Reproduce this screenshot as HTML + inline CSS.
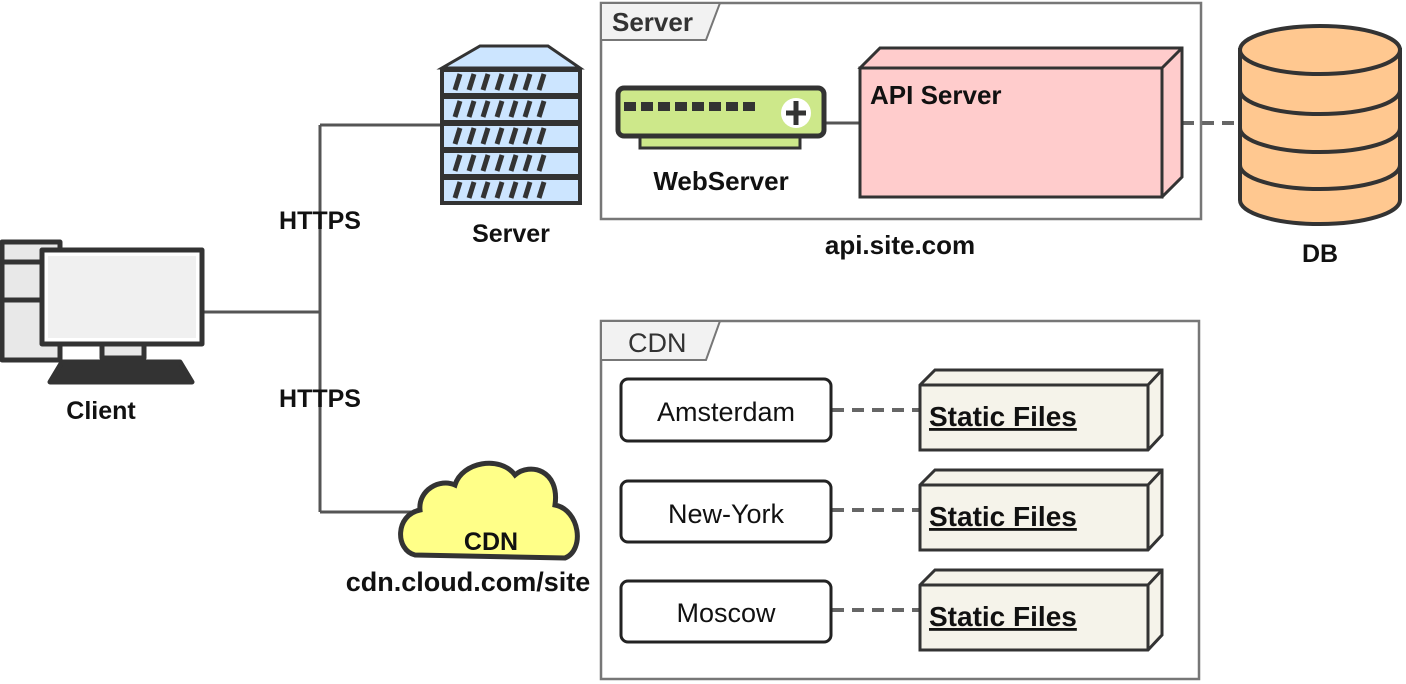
<!DOCTYPE html>
<html><head><meta charset="utf-8"><style>
html,body{margin:0;padding:0;background:#fff;width:1406px;height:684px;overflow:hidden}
svg{display:block}
text{font-family:"Liberation Sans",sans-serif;fill:#111}
.b{font-weight:bold;font-size:25px}
.n{font-size:27px}
</style></head><body>
<svg width="1406" height="684" viewBox="0 0 1406 684" xmlns="http://www.w3.org/2000/svg">
<g stroke="#555" stroke-width="3" fill="none">
<path d="M204 312 H320 M320 125 V512 M320 125 H442 M320 512 H412"/>
<path d="M826 123 H862"/>
<path d="M1182 123 H1240 M832 410 H922 M832 510 H922 M832 610 H922" stroke-dasharray="12 8" stroke-width="4" stroke="#666"/>
</g>
<g stroke="#777" stroke-width="2.5" fill="none">
<rect x="601" y="3" width="600" height="216"/>
<rect x="601" y="321" width="598" height="358"/>
</g>
<path d="M601 3 H720 L706 40 H601 Z" fill="#f2f2f2" stroke="#777" stroke-width="2"/>
<path d="M601 321 H720 L706 360 H601 Z" fill="#f2f2f2" stroke="#777" stroke-width="2"/>
<text x="612" y="31" class="b" style="fill:#333;font-size:26px">Server</text>
<text x="628" y="352" class="n" style="fill:#333">CDN</text>
<g stroke="#333" stroke-width="5" stroke-linejoin="round">
<rect x="2" y="242" width="58" height="118" fill="#e8e8e8"/>
<path d="M2 262 H60 M2 300 H60" fill="none"/>
<rect x="42" y="250" width="160" height="94" fill="#fff"/>
<rect x="102" y="344" width="42" height="14" fill="#e8e8e8"/>
<path d="M62 362 H180 L192 382 H50 Z" fill="#333"/>
</g>
<rect x="48" y="256" width="148" height="82" fill="#f0f0f0"/>
<text x="101" y="419" class="b" text-anchor="middle">Client</text>
<text x="320" y="229" class="b" text-anchor="middle">HTTPS</text>
<text x="320" y="407" class="b" text-anchor="middle">HTTPS</text>
<path d="M480 46 H548 L580 68 H442 Z" fill="#cce5ff" stroke="#333" stroke-width="3"/>
<g stroke="#333" stroke-width="4" fill="#cce5ff">
<rect x="442" y="70" width="138" height="25"/>
<rect x="442" y="97" width="138" height="25"/>
<rect x="442" y="124" width="138" height="25"/>
<rect x="442" y="151" width="138" height="25"/>
<rect x="442" y="178" width="138" height="25"/>
</g>
<g stroke="#333" stroke-width="5">
<path d="M455 90 l5 -16 M469 90 l5 -16 M483 90 l5 -16 M497 90 l5 -16 M511 90 l5 -16 M525 90 l5 -16 M539 90 l5 -16"/>
<path d="M455 117 l5 -16 M469 117 l5 -16 M483 117 l5 -16 M497 117 l5 -16 M511 117 l5 -16 M525 117 l5 -16 M539 117 l5 -16"/>
<path d="M455 144 l5 -16 M469 144 l5 -16 M483 144 l5 -16 M497 144 l5 -16 M511 144 l5 -16 M525 144 l5 -16 M539 144 l5 -16"/>
<path d="M455 171 l5 -16 M469 171 l5 -16 M483 171 l5 -16 M497 171 l5 -16 M511 171 l5 -16 M525 171 l5 -16 M539 171 l5 -16"/>
<path d="M455 198 l5 -16 M469 198 l5 -16 M483 198 l5 -16 M497 198 l5 -16 M511 198 l5 -16 M525 198 l5 -16 M539 198 l5 -16"/>
</g>
<text x="511" y="242" class="b" text-anchor="middle">Server</text>
<rect x="640" y="134" width="160" height="14" fill="#cde88a" stroke="#333" stroke-width="3"/>
<rect x="618" y="88" width="206" height="48" rx="6" fill="#cde88a" stroke="#333" stroke-width="5"/>
<g fill="#333"><rect x="624" y="102" width="12" height="9"/><rect x="641" y="102" width="12" height="9"/><rect x="658" y="102" width="12" height="9"/><rect x="675" y="102" width="12" height="9"/><rect x="692" y="102" width="12" height="9"/><rect x="709" y="102" width="12" height="9"/><rect x="726" y="102" width="12" height="9"/><rect x="743" y="102" width="12" height="9"/></g>
<circle cx="796" cy="113" r="15" fill="#fff"/>
<path d="M796 101 V125 M786 113 H806" stroke="#333" stroke-width="5"/>
<text x="721" y="190" class="b" text-anchor="middle" style="font-size:26px">WebServer</text>
<path d="M860 68 L880 48 H1182 V177 L1162 197 Z" fill="#ffcccc" stroke="#333" stroke-width="3"/>
<rect x="860" y="68" width="302" height="129" fill="#ffcccc" stroke="#333" stroke-width="3"/>
<path d="M1162 68 L1182 48" stroke="#333" stroke-width="3"/>
<text x="870" y="104" class="b" style="font-size:26px">API Server</text>
<text x="900" y="254" class="b" text-anchor="middle" style="font-size:26px">api.site.com</text>
<g stroke="#333" stroke-width="4" fill="#ffc890">
<path d="M1240 50 V200 A80 24 0 0 0 1400 200 V50 Z"/>
<ellipse cx="1320" cy="50" rx="80" ry="24"/>
<path d="M1240 90 A80 24 0 0 0 1400 90 M1240 128 A80 24 0 0 0 1400 128 M1240 165 A80 24 0 0 0 1400 165" fill="none"/>
</g>
<text x="1320" y="262" class="b" text-anchor="middle">DB</text>
<path d="M415 555 C395 550 395 515 420 510 C418 490 440 478 455 485 C462 462 500 455 515 475 C530 462 560 470 555 505 C580 510 585 550 565 558 Z" fill="#ffff88" stroke="#333" stroke-width="5"/>
<text x="491" y="550" class="b" text-anchor="middle">CDN</text>
<text x="468" y="591" class="b" text-anchor="middle" style="font-size:27px">cdn.cloud.com/site</text>
<g stroke="#222" stroke-width="3" fill="#fff">
<rect x="621" y="379" width="210" height="62" rx="7"/>
<rect x="621" y="481" width="210" height="61" rx="7"/>
<rect x="621" y="581" width="210" height="61" rx="7"/>
</g>
<text x="726" y="421" class="n" text-anchor="middle">Amsterdam</text>
<text x="726" y="523" class="n" text-anchor="middle">New-York</text>
<text x="726" y="622" class="n" text-anchor="middle">Moscow</text>
<g stroke="#333" stroke-width="3" fill="#f5f3ea">
<path d="M920 385 L935 370 H1162 V435 L1148 450 H920 Z"/>
<path d="M920 385 H1148 V450 M1148 385 L1162 370" fill="none"/>
<path d="M920 485 L935 470 H1162 V535 L1148 550 H920 Z"/>
<path d="M920 485 H1148 V550 M1148 485 L1162 470" fill="none"/>
<path d="M920 585 L935 570 H1162 V635 L1148 650 H920 Z"/>
<path d="M920 585 H1148 V650 M1148 585 L1162 570" fill="none"/>
</g>
<text x="929" y="426" class="b" text-decoration="underline" style="font-size:28px">Static Files</text>
<text x="929" y="526" class="b" text-decoration="underline" style="font-size:28px">Static Files</text>
<text x="929" y="626" class="b" text-decoration="underline" style="font-size:28px">Static Files</text>
</svg>
</body></html>
